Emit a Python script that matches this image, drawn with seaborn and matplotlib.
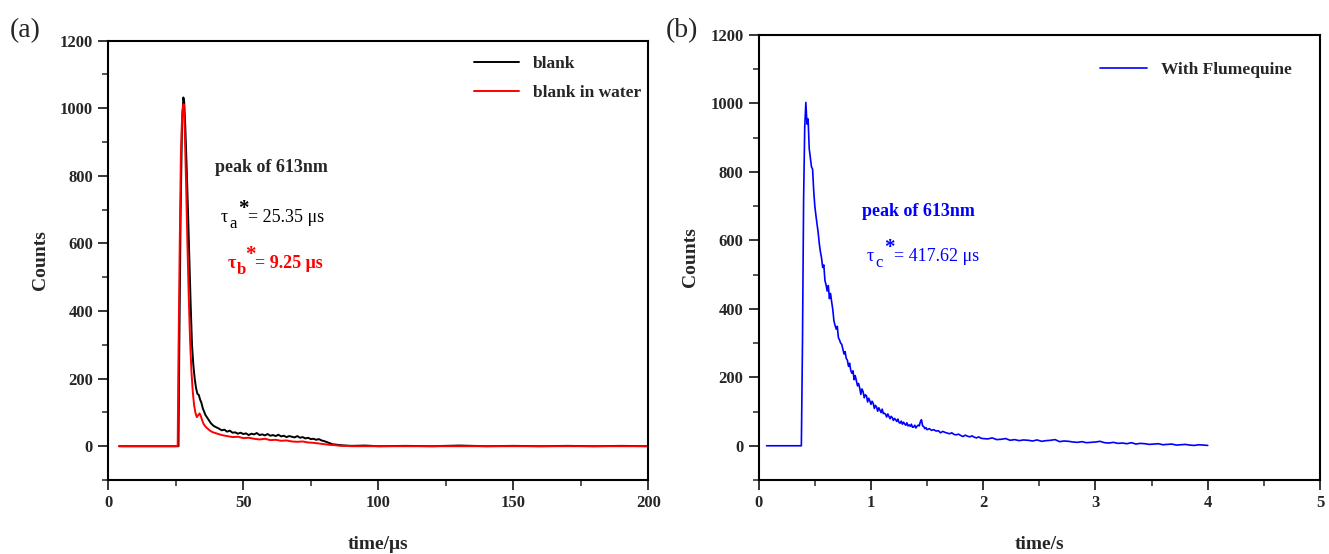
import matplotlib
matplotlib.use("Agg")
import matplotlib.pyplot as plt
from matplotlib.ticker import MultipleLocator
import seaborn as sns
import pandas as pd

# ---------------- data ----------------
blank_t = [4, 26.0, 26.3, 26.8, 27.3, 27.8, 28.1, 28.5, 29.0, 29.5, 30.0, 30.5, 31.0, 31.5,
           32.0, 32.5, 33.0, 33.5, 34.0, 34.5, 35.0, 35.5, 36.0,
           37, 38, 39, 40, 41, 42, 43, 44, 45, 46, 47, 48, 49, 50, 51, 52, 53, 54, 55, 56,
           57, 58, 59, 60, 61, 62, 63, 64, 65, 66, 67, 68, 69, 70, 71, 72, 73, 74, 75, 76,
           77, 78, 79, 80, 81, 82, 83, 84, 86, 88, 90, 95, 100,
           110, 120, 130, 140, 150, 160, 170, 180, 190, 200]
blank_counts = [0, 0, 300, 700, 950, 1032, 1020, 950, 830, 700, 560, 420, 300, 240,
                200, 172, 155, 152, 138, 128, 112, 102, 92,
                80, 68, 60, 56, 52, 47, 49, 43, 46, 40, 41, 37, 40, 36, 38, 33, 37, 35, 39, 33,
                35, 32, 36, 31, 33, 30, 34, 29, 31, 27, 30, 28, 26, 30, 25, 27, 23, 25, 21, 22,
                19, 21, 17, 15, 12, 9, 6, 5, 3, 2, 1, 2, 0,
                1, 0, 2, 0, 1, 0, 1, 0, 1, 0]

water_t = [4, 25.7, 25.9, 26.4, 26.9, 27.4, 27.9, 28.3, 28.8, 29.3, 29.8, 30.3, 30.8, 31.3,
           31.8, 32.3, 32.8, 33.3, 33.8, 34.3, 34.8, 35.3, 35.8, 36.5, 37.5, 38.5,
           40, 42, 44, 46, 48, 50, 52, 54, 56, 58, 60, 62, 64, 66, 68, 70, 72, 74, 76, 78,
           80, 82, 84, 86, 88, 90, 100, 200]
water_counts = [0, 0, 200, 560, 870, 990, 1012, 940, 780, 600, 440, 310, 220, 160,
                120, 98, 86, 92, 97, 88, 76, 66, 60, 54, 47, 42,
                38, 33, 30, 27, 28, 24, 25, 22, 20, 22, 18, 19, 16, 17, 14, 13, 14, 11, 10, 8,
                6, 4, 3, 1, 1, 0, 0, 0]

flume_t = [0.07, 0.38, 0.39, 0.40, 0.41,
           0.42, 0.43, 0.44, 0.45, 0.46, 0.47, 0.48, 0.49, 0.50, 0.51,
           0.52, 0.53, 0.54, 0.55, 0.56, 0.57, 0.58, 0.59, 0.60, 0.61,
           0.62, 0.63, 0.64, 0.65, 0.66, 0.67, 0.68, 0.69, 0.70, 0.71,
           0.72, 0.73, 0.74, 0.75, 0.76, 0.77, 0.78, 0.79, 0.80, 0.81,
           0.82, 0.83, 0.84, 0.85, 0.86, 0.87, 0.88, 0.89, 0.90, 0.91,
           0.92, 0.93, 0.94, 0.95, 0.96, 0.97, 0.98, 0.99, 1.00, 1.01,
           1.02, 1.03, 1.04, 1.05, 1.06, 1.07, 1.08, 1.09, 1.10, 1.11,
           1.12, 1.13, 1.14, 1.15, 1.16, 1.17, 1.18, 1.19, 1.20, 1.21,
           1.22, 1.23, 1.24, 1.25, 1.26, 1.27, 1.28, 1.29, 1.30, 1.31,
           1.32, 1.33, 1.34, 1.35, 1.36, 1.37, 1.38, 1.39, 1.40, 1.41,
           1.42, 1.43, 1.44, 1.45, 1.46, 1.47, 1.48, 1.49, 1.50,
           1.52, 1.54, 1.56, 1.58, 1.60, 1.62, 1.64, 1.66, 1.68, 1.70,
           1.72, 1.74, 1.76, 1.78, 1.80, 1.82, 1.84, 1.86, 1.88, 1.90,
           1.92, 1.94, 1.96, 1.98, 2.00,
           2.04, 2.08, 2.12, 2.16, 2.20, 2.24, 2.28, 2.32, 2.36, 2.40,
           2.44, 2.48, 2.52, 2.56, 2.60, 2.64, 2.68, 2.72, 2.76, 2.80,
           2.84, 2.88, 2.92, 2.96, 3.00, 3.04, 3.08, 3.12, 3.16, 3.20,
           3.24, 3.28, 3.32, 3.36, 3.40, 3.44, 3.48, 3.52, 3.56, 3.60,
           3.64, 3.68, 3.72, 3.76, 3.80, 3.84, 3.88, 3.92, 3.96, 4.00]
flume_counts = [0, 0, 300, 720, 930,
                1003, 940, 955, 868, 842, 815, 808, 745, 700, 672,
                648, 622, 590, 566, 548, 521, 528, 483, 470, 452,
                468, 430, 445, 420, 398, 365, 352, 341, 349, 316,
                309, 300, 296, 282, 268, 275, 255, 250, 232, 241,
                220, 212, 219, 193, 205, 190, 175, 182, 168, 150,
                166, 158, 140, 149, 146, 128, 139, 131, 121, 130,
                124, 109, 118, 113, 101, 111, 104, 97, 107, 94,
                95, 92, 84, 93, 86, 79, 86, 82, 74, 80,
                76, 71, 78, 68, 66, 72, 63, 69, 64, 60,
                67, 58, 61, 57, 63, 54, 55, 60, 52, 57,
                60, 58, 70, 76, 58, 56, 50, 53, 47,
                50, 45, 47, 43, 44, 38, 42, 39, 37, 35,
                38, 33, 32, 34, 30, 27, 31, 28, 26, 29,
                25, 23, 26, 22, 21,
                20, 23, 18, 19, 21, 16, 18, 15, 17, 16,
                14, 17, 13, 15, 16, 18, 12, 14, 13, 11,
                10, 12, 9, 10, 11, 13, 9, 8, 10, 7,
                8, 6, 9, 5, 7, 6, 4, 5, 6, 3,
                4, 5, 2, 3, 4, 2, 1, 3, 2, 1]

a_xticks = [0, 50, 100, 150, 200]
b_xticks = [0, 1, 2, 3, 4, 5]
yticks = [0, 200, 400, 600, 800, 1000, 1200]

# ---------------- style ----------------
sns.set_style("ticks")
plt.rcParams["font.family"] = ["Liberation Serif", "DejaVu Serif"]

W, H = 1329, 554
fig = plt.figure(figsize=(W / 100, H / 100), dpi=100)
ax1 = fig.add_axes([108.3 / W, 1 - 480 / H, (648.3 - 108.3) / W, (480 - 40.7) / H])
ax2 = fig.add_axes([758.7 / W, 1 - 480 / H, (1320 - 758.7) / W, (480 - 35) / H])

df_blank = pd.DataFrame({"t": blank_t, "c": blank_counts})
df_water = pd.DataFrame({"t": water_t, "c": water_counts})
df_flume = pd.DataFrame({"t": flume_t, "c": flume_counts})

sns.lineplot(data=df_blank, x="t", y="c", ax=ax1, color="black", lw=1.4,
             estimator=None, sort=False, label="blank")
sns.lineplot(data=df_water, x="t", y="c", ax=ax1, color="#ff0000", lw=1.4,
             estimator=None, sort=False, label="blank in water")
sns.lineplot(data=df_flume, x="t", y="c", ax=ax2, color="#0000ff", lw=1.2,
             estimator=None, sort=False, label="With Flumequine")

for ax, xt, xmin_step, xmax in [(ax1, a_xticks, 25, 200), (ax2, b_xticks, 0.5, 5)]:
    ax.set_xlim(0, xmax)
    ax.set_ylim(-100, 1200)
    ax.set_xticks(xt)
    ax.set_yticks(yticks)
    ax.xaxis.set_minor_locator(MultipleLocator(xmin_step))
    ax.yaxis.set_minor_locator(MultipleLocator(100))
    ax.tick_params(which="major", direction="out", length=7, width=1.3,
                   top=False, right=False, labelsize=12, pad=4)
    ax.tick_params(which="minor", direction="out", length=4, width=1.1,
                   top=False, right=False)
    for lab in ax.get_xticklabels() + ax.get_yticklabels():
        lab.set_fontweight("bold")
    for sp in ax.spines.values():
        sp.set_visible(True)
        sp.set_linewidth(1.5)
        sp.set_color("black")
    ax.set_ylabel("Counts", fontsize=14, fontweight="bold", labelpad=8)

ax1.set_xlabel("time/μs", fontsize=14, fontweight="bold", labelpad=18)
ax2.set_xlabel("time/s", fontsize=14, fontweight="bold", labelpad=18)

ax1.legend(loc="upper right", frameon=False, handlelength=2.6, labelspacing=0.75,
           prop={"weight": "bold", "size": 12.5}, borderaxespad=0.3,
           bbox_to_anchor=(1.009, 0.993))
ax2.legend(loc="upper right", frameon=False, handlelength=2.7,
           prop={"weight": "bold", "size": 12.5}, bbox_to_anchor=(0.977, 0.975))


def tau_label(ax, x, y, sub, rest, color, weight):
    kw = dict(xy=(x, y), xycoords="data", textcoords="offset points",
              ha="left", va="baseline", color=color)
    ax.annotate("τ", xytext=(0, 0), fontsize=13, fontweight=weight, **kw)
    ax.annotate(sub, xytext=(6.3, -4.5), fontsize=12, fontweight=weight, **kw)
    ax.annotate("*", xytext=(12.5, 5.5), fontsize=15, fontweight="bold", **kw)
    ax.annotate(rest, xytext=(19.5, 0), fontsize=13, fontweight=weight, **kw)


# annotations
ax1.text(39.5, 825, "peak of 613nm", fontsize=13, fontweight="bold", va="center", ha="left")
tau_label(ax1, 41.7, 664, "a", "= 25.35 μs", "black", "normal")
tau_label(ax1, 44.3, 527, "b", "= 9.25 μs", "#ff0000", "bold")
ax2.text(0.917, 685, "peak of 613nm", fontsize=13, fontweight="bold", va="center",
         ha="left", color="#0000ff")
tau_label(ax2, 0.962, 541, "c", "= 417.62 μs", "#0000ff", "normal")

fig.text(10 / W, 1 - 31 / H, "(a)", fontsize=20, va="center", ha="left")
fig.text(666 / W, 1 - 31 / H, "(b)", fontsize=20, va="center", ha="left")

fig.savefig("out.png", dpi=100)
